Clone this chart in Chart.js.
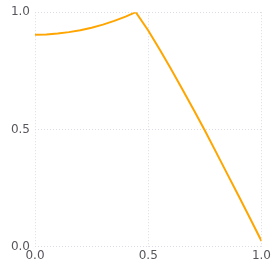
<!DOCTYPE html>
<html lang="en">
<head>
    <meta charset="UTF-8">
    <title>Line chart</title>
    <script src="https://cdn.jsdelivr.net/npm/chart.js"></script>
    <style>
        * {
            padding: 0;
            margin: 0;
            box-sizing: border-box;
        }

        body {
            background: #ffffff;
        }
    </style>
</head>

<body>
    <canvas id="chart1" width="273" height="273"></canvas>

    <script>
        // values
        const xValues = [0, 0.05, 0.1, 0.15, 0.2, 0.25, 0.3, 0.35, 0.4, 0.445,
                         0.5, 0.55, 0.6, 0.65, 0.7, 0.75, 0.8, 0.85, 0.9, 0.95, 1.0];
        const yValues = [0.904, 0.905, 0.909, 0.915, 0.923, 0.934, 0.947, 0.963, 0.981, 1.0,
                         0.922, 0.842, 0.759, 0.672, 0.585, 0.495, 0.402, 0.308, 0.215, 0.12, 0.024];
        const xTicks = [0, 0.5, 1.0];
        const yTicks = [0, 0.5, 1.0];

        const points = xValues.map((x, i) => ({ x: x, y: yValues[i] }));

        const gridColor = '#dcdce6';
        const tickColor = '#59555c';
        const tickFont = { family: 'DejaVu Sans', size: 12 };

        const ctx = document.getElementById('chart1').getContext('2d');
        new Chart(ctx, {
            type: 'line',
            data: {
                datasets: [{
                    data: points,
                    borderColor: '#ffa500',
                    borderWidth: 2,
                    pointRadius: 0,
                    fill: false,
                    tension: 0
                }]
            },
            options: {
                responsive: false,
                animation: false,
                devicePixelRatio: 1,
                layout: {
                    padding: { top: 6, right: 6, bottom: 8, left: 4 }
                },
                plugins: {
                    legend: { display: false },
                    tooltip: { enabled: false }
                },
                scales: {
                    x: {
                        type: 'linear',
                        min: 0,
                        max: 1,
                        afterBuildTicks: (scale) => {
                            scale.ticks = xTicks.map(v => ({ value: v }));
                        },
                        ticks: {
                            color: tickColor,
                            font: tickFont,
                            padding: 2,
                            maxRotation: 0,
                            callback: (v) => v.toFixed(1)
                        },
                        grid: { color: gridColor, drawTicks: false },
                        border: { display: false, dash: [1, 2] }
                    },
                    y: {
                        type: 'linear',
                        min: 0,
                        max: 1,
                        afterBuildTicks: (scale) => {
                            scale.ticks = yTicks.map(v => ({ value: v }));
                        },
                        afterFit: (scale) => {
                            scale.width = 31;
                        },
                        ticks: {
                            color: tickColor,
                            font: tickFont,
                            padding: 5,
                            callback: (v) => v.toFixed(1)
                        },
                        grid: { color: gridColor, drawTicks: false },
                        border: { display: false, dash: [1, 2] }
                    }
                }
            }
        });
    </script>
</body>
</html>
